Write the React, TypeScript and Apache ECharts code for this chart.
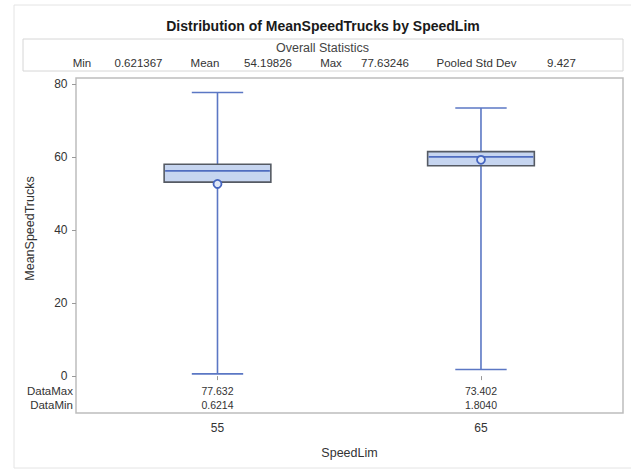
import React, { useEffect, useRef } from "react";
import * as echarts from "echarts";

// ---- data ----
const categories = ["55", "65"];
const dataMin = [0.6214, 1.804];
const q1 = [53.1, 57.6];
const median = [56.2, 60.0];
const q3 = [58.0, 61.45];
const dataMax = [77.632, 73.402];
const means = [52.6, 59.2];
const yTicks = [0, 20, 40, 60, 80];
const statLabels = ["Min", "Mean", "Max", "Pooled Std Dev"];
const statValues = ["0.621367", "54.19826", "77.63246", "9.427"];

const FF = '"Liberation Sans", Arial, sans-serif';

export default function App() {
  const ref = useRef<HTMLDivElement>(null);

  useEffect(() => {
    if (!ref.current) return;
    const chart = echarts.init(ref.current, undefined, { renderer: "svg" });

    const xVals = categories.map((c) => Number(c));
    const seriesData = categories.map((c, i) => [
      Number(c),
      dataMin[i],
      q1[i],
      median[i],
      q3[i],
      dataMax[i],
      means[i],
    ]);

    const labelCenters = [82, 205, 331, 476.5];
    const valueCenters = [138.5, 268, 385, 561.5];

    const graphic: any[] = [
      {
        type: "rect",
        z: -10,
        shape: { x: 14, y: 5, width: 640, height: 463 },
        style: { fill: "#ffffff", stroke: "#e4e4e4", lineWidth: 1 },
        silent: true,
      },
      {
        type: "rect",
        shape: { x: 23, y: 39, width: 600, height: 32 },
        style: { fill: "#ffffff", stroke: "#d6d6d6", lineWidth: 1 },
        silent: true,
      },
      {
        type: "text",
        x: 323,
        y: 25.5,
        style: {
          text: "Distribution of MeanSpeedTrucks by SpeedLim",
          textAlign: "center",
          textVerticalAlign: "middle",
          font: `bold 14px ${FF}`,
          fill: "#1a1a1a",
        },
      },
      {
        type: "text",
        x: 322.5,
        y: 48,
        style: {
          text: "Overall Statistics",
          textAlign: "center",
          textVerticalAlign: "middle",
          font: `12.5px ${FF}`,
          fill: "#444",
        },
      },
      ...statLabels.map((t, i) => ({
        type: "text",
        x: labelCenters[i],
        y: 63,
        style: {
          text: t,
          textAlign: "center",
          textVerticalAlign: "middle",
          font: `11.5px ${FF}`,
          fill: "#333",
        },
      })),
      ...statValues.map((t, i) => ({
        type: "text",
        x: valueCenters[i],
        y: 63,
        style: {
          text: t,
          textAlign: "center",
          textVerticalAlign: "middle",
          font: `11.5px ${FF}`,
          fill: "#333",
        },
      })),
      {
        type: "text",
        x: 30,
        y: 228.5,
        rotation: Math.PI / 2,
        style: {
          text: "MeanSpeedTrucks",
          textAlign: "center",
          textVerticalAlign: "middle",
          font: `12.5px ${FF}`,
          fill: "#333",
        },
      },
      {
        type: "text",
        x: 73,
        y: 391,
        style: {
          text: "DataMax",
          textAlign: "right",
          textVerticalAlign: "middle",
          font: `11.5px ${FF}`,
          fill: "#333",
        },
      },
      {
        type: "text",
        x: 73,
        y: 405,
        style: {
          text: "DataMin",
          textAlign: "right",
          textVerticalAlign: "middle",
          font: `11.5px ${FF}`,
          fill: "#333",
        },
      },
    ];

    const option: any = {
      animation: false,
      backgroundColor: "#ffffff",
      graphic,
      grid: {
        left: 76,
        top: 78,
        width: 547,
        height: 335,
        show: true,
        borderColor: "#bdbdbd",
        borderWidth: 1.5,
        backgroundColor: "#ffffff",
      },
      xAxis: {
        type: "value",
        min: 49.63,
        max: 70.39,
        axisLine: { show: false },
        splitLine: { show: false },
        axisTick: {
          show: true,
          customValues: xVals,
          length: 4,
          lineStyle: { color: "#999" },
        },
        axisLabel: {
          customValues: xVals,
          formatter: (v: number) => String(v),
          margin: 9,
          fontSize: 12,
          color: "#333",
          fontFamily: FF,
        },
        name: "SpeedLim",
        nameLocation: "middle",
        nameGap: 33,
        nameTextStyle: { fontSize: 12.5, color: "#333", fontFamily: FF },
      },
      yAxis: {
        type: "value",
        min: -10.1,
        max: 81.6,
        axisLine: { show: false },
        splitLine: { show: false },
        axisTick: {
          show: true,
          customValues: yTicks,
          length: 4,
          lineStyle: { color: "#999" },
        },
        axisLabel: {
          customValues: yTicks,
          margin: 8.5,
          fontSize: 12,
          color: "#333",
          fontFamily: FF,
        },
      },
      series: [
        {
          type: "custom",
          clip: false,
          data: seriesData,
          renderItem: (params: any, api: any) => {
            const x = api.value(0);
            const pMin = api.coord([x, api.value(1)]);
            const pQ1 = api.coord([x, api.value(2)]);
            const pMed = api.coord([x, api.value(3)]);
            const pQ3 = api.coord([x, api.value(4)]);
            const pMax = api.coord([x, api.value(5)]);
            const pMean = api.coord([x, api.value(6)]);
            const boxW = api.size([4.05, 0])[0];
            const capW = api.size([1.95, 0])[0];
            const cs = params.coordSys;
            const bottom = cs.y + cs.height;
            const cx = pMin[0];
            const whisk = { stroke: "#5b77c4", lineWidth: 1.6 };
            const i = params.dataIndex;
            return {
              type: "group",
              children: [
                {
                  type: "line",
                  shape: { x1: cx, y1: pMin[1], x2: cx, y2: pQ1[1] },
                  style: whisk,
                },
                {
                  type: "line",
                  shape: { x1: cx, y1: pQ3[1], x2: cx, y2: pMax[1] },
                  style: whisk,
                },
                {
                  type: "line",
                  shape: { x1: cx - capW / 2, y1: pMin[1], x2: cx + capW / 2, y2: pMin[1] },
                  style: whisk,
                },
                {
                  type: "line",
                  shape: { x1: cx - capW / 2, y1: pMax[1], x2: cx + capW / 2, y2: pMax[1] },
                  style: whisk,
                },
                {
                  type: "rect",
                  shape: { x: cx - boxW / 2, y: pQ3[1], width: boxW, height: pQ1[1] - pQ3[1] },
                  style: { fill: "#c6d5f0", stroke: "#555a63", lineWidth: 1.6 },
                },
                {
                  type: "line",
                  shape: { x1: cx - boxW / 2 + 1, y1: pMed[1], x2: cx + boxW / 2 - 1, y2: pMed[1] },
                  style: { stroke: "#4f6cc0", lineWidth: 1.8 },
                },
                {
                  type: "circle",
                  shape: { cx: pMean[0], cy: pMean[1], r: 4 },
                  style: { fill: "#dfe7f7", stroke: "#4565c0", lineWidth: 1.8 },
                },
                {
                  type: "text",
                  x: cx,
                  y: bottom - 22,
                  style: {
                    text: dataMax[i].toFixed(3),
                    textAlign: "center",
                    textVerticalAlign: "middle",
                    font: `10.5px ${FF}`,
                    fill: "#333",
                  },
                },
                {
                  type: "text",
                  x: cx,
                  y: bottom - 8,
                  style: {
                    text: dataMin[i].toFixed(4),
                    textAlign: "center",
                    textVerticalAlign: "middle",
                    font: `10.5px ${FF}`,
                    fill: "#333",
                  },
                },
              ],
            };
          },
        },
      ],
    };

    chart.setOption(option);
    return () => chart.dispose();
  }, []);

  return (
    <div
      ref={ref}
      style={{ position: "fixed", left: 0, top: 0, width: 631, height: 470 }}
    />
  );
}
